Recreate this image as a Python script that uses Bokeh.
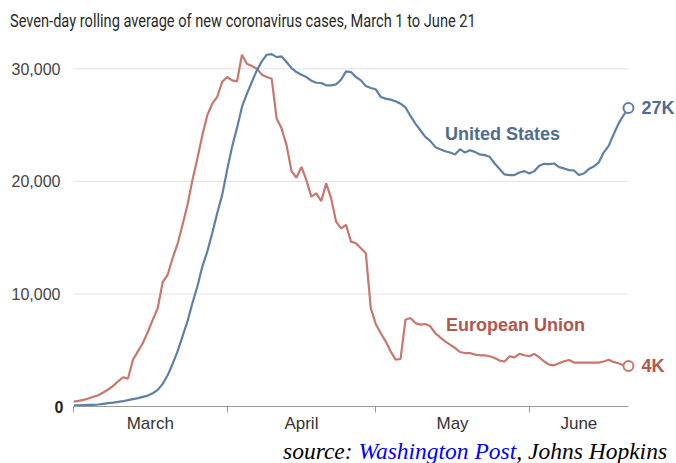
from bokeh.plotting import figure
from bokeh.models import FixedTicker, Label, Range1d, NumeralTickFormatter, LinearAxis, Div
from bokeh.layouts import column
from bokeh.embed import file_html
from bokeh.resources import INLINE

# ---------------- data (7-day rolling average, day 0 = March 1, day 112 = June 21)
days = list(range(113))

us_cases = [
    100, 110, 130, 140, 150, 180, 240, 300, 350, 410,
    470, 560, 650, 740, 860, 970, 1180, 1480, 2010, 2770,
    3780, 4900, 6230, 7560, 9190, 10660, 12430, 13760, 15390, 17160,
    18780, 21000, 23060, 24750, 26610, 27790, 28830, 29860, 30660, 31250,
    31300, 31040, 31100, 30600, 30060, 29710, 29480, 29270, 28940, 28760,
    28740, 28530, 28530, 28620, 29030, 29770, 29710, 29270, 28970, 28470,
    28290, 28180, 27500, 27350, 27260, 27110, 26900, 26580, 25810, 25130,
    24540, 23950, 23600, 23060, 22860, 22680, 22560, 22390, 22860, 22560,
    22770, 22620, 22390, 22330, 22180, 21590, 21090, 20620, 20560, 20560,
    20790, 20910, 20700, 20910, 21380, 21560, 21530, 21590, 21260, 21150,
    21000, 20970, 20560, 20700, 21090, 21320, 21680, 22560, 23150, 24160,
    25130, 25870, 26520,
]

eu_cases = [
    440, 500, 590, 710, 860, 1000, 1240, 1510, 1830, 2240,
    2600, 2480, 4160, 4900, 5640, 6620, 7710, 8740, 11040, 11700,
    13170, 14440, 16130, 17900, 20110, 22030, 24100, 25870, 26900, 27500,
    28830, 29270, 28970, 28880, 31250, 30450, 30240, 30010, 29480, 29270,
    29120, 25580, 24690, 23210, 20910, 20320, 21290, 20110, 18640, 18930,
    18250, 19820, 18490, 16420, 15830, 16130, 14650, 14500, 14060, 13610,
    8740, 7330, 6530, 5790, 4900, 4160, 4220, 7710, 7860, 7410,
    7270, 7330, 7120, 6530, 6140, 5790, 5490, 5200, 4840, 4750,
    4750, 4610, 4550, 4550, 4460, 4310, 4080, 4000, 4460, 4370,
    4670, 4550, 4460, 4670, 4370, 4000, 3720, 3660, 3840, 4020,
    4130, 3900, 3900, 3900, 3900, 3900, 3900, 4000, 4150, 3960,
    3840, 3660, 3600,
]

month_names = ["March", "April", "May", "June"]
month_starts = [0, 31, 61, 92]
y_ticks = [0, 10000, 20000, 30000]
series_names = ["United States", "European Union"]

title_text = "Seven-day rolling average of new coronavirus cases, March 1 to June 21"
source_parts = ["source: ", "Washington Post", ", Johns Hopkins"]

# ---------------- styling
US_LINE = "#5f80a6"
US_TEXT = "#4d6c93"
EU_LINE = "#c7776d"
EU_TEXT = "#b3564d"
AXIS_GREY = "#9a9a9a"
GRID_GREY = "#e2e2e2"
SANS = "Liberation Sans"

last = days[-1]
ends = month_starts[1:] + [last]
month_centers = [float(a + b) / 2 for a, b in zip(month_starts, ends)]
grid_vals = [t for t in y_ticks if t > 0]

# title block (condensed look via horizontal scaling)
title_div = Div(text=title_text, width=676, height=45, margin=(0, 0, 0, 0),
                styles={"font-family": "Roboto, sans-serif", "font-size": "18.5px",
                        "line-height": "20px", "padding-top": "11px",
                        "padding-left": "12.6px", "white-space": "nowrap",
                        "color": "#2a2a2a", "box-sizing": "border-box",
                        "transform": "scaleX(0.79)", "transform-origin": "0 0"})

p = figure(width=676, height=390, output_backend="svg", toolbar_location=None,
           x_range=Range1d(days[0], last + 9.7), y_range=Range1d(0, 32070),
           min_border_left=73, min_border_right=0, min_border_top=0,
           min_border_bottom=28)
p.outline_line_color = None
p.background_fill_color = "white"
p.border_fill_color = "white"

# grid (drawn only over the data span)
p.xgrid.grid_line_color = None
p.ygrid.grid_line_color = None
p.segment(x0=[days[0]] * len(grid_vals), x1=[last] * len(grid_vals),
          y0=grid_vals, y1=grid_vals, line_color=GRID_GREY, line_width=1,
          level="underlay")

# inner y axis: the bold zero
p.yaxis.ticker = FixedTicker(ticks=[0])
p.yaxis.axis_line_color = None
p.yaxis.major_tick_line_color = None
p.yaxis.minor_tick_line_color = None
p.yaxis.major_tick_out = 0
p.yaxis.minor_tick_out = 0
p.yaxis.major_label_standoff = 10
p.yaxis.major_label_text_font = SANS
p.yaxis.major_label_text_font_style = "bold"
p.yaxis.major_label_text_font_size = "16px"
p.yaxis.major_label_text_color = "#222222"

# outer y axis: the other values
yax2 = LinearAxis(ticker=FixedTicker(ticks=grid_vals),
                  formatter=NumeralTickFormatter(format="0,0"),
                  axis_line_color=None, major_tick_line_color=None,
                  minor_tick_line_color=None, major_tick_out=0, minor_tick_out=0,
                  major_label_standoff=-9,
                  major_label_text_font=SANS, major_label_text_font_size="16px",
                  major_label_text_color="#444444")
p.add_layout(yax2, "left")

# x axis: labels at month centres, tick marks at month boundaries
p.xaxis.ticker = FixedTicker(ticks=month_centers, minor_ticks=[float(m) for m in month_starts])
p.xaxis.major_label_overrides = {c: n for c, n in zip(month_centers, month_names)}
p.xaxis.bounds = (days[0], last)
p.xaxis.major_tick_in = 0
p.xaxis.major_tick_out = 0
p.xaxis.minor_tick_in = 0
p.xaxis.minor_tick_out = 6
p.xaxis.minor_tick_line_color = AXIS_GREY
p.xaxis.axis_line_color = AXIS_GREY
p.xaxis.major_label_standoff = 1
p.xaxis.major_label_text_font = SANS
p.xaxis.major_label_text_font_size = "17px"
p.xaxis.major_label_text_color = "#333333"

# lines
p.line(days, eu_cases, line_color=EU_LINE, line_width=2.2)
p.line(days, us_cases, line_color=US_LINE, line_width=2.2)

# end markers + end labels
for vals, lc, tc in [(us_cases, US_LINE, US_TEXT), (eu_cases, EU_LINE, EU_TEXT)]:
    p.scatter(x=[last], y=[vals[-1]], size=10, marker="circle",
              fill_color="white", line_color=lc, line_width=2)
    p.add_layout(Label(x=last, y=vals[-1], x_offset=13,
                       text=f"{round(vals[-1] / 1000)}K", text_align="left",
                       text_baseline="middle", text_font=SANS,
                       text_font_style="bold", text_font_size="18px",
                       text_color=tc))

# series names
p.add_layout(Label(x=75, y=24200, text=series_names[0], text_baseline="middle",
                   text_font=SANS, text_font_style="bold", text_font_size="18px",
                   text_color=US_TEXT))
p.add_layout(Label(x=75.2, y=7260, text=series_names[1], text_baseline="middle",
                   text_font=SANS, text_font_style="bold", text_font_size="18px",
                   text_color=EU_TEXT))

# source line
src_html = (f'<i>{source_parts[0]}<span style="color:blue">{source_parts[1]}</span>'
            f'{source_parts[2]}</i>')
src = Div(text=src_html, width=676, height=28, margin=(0, 0, 0, 0),
          styles={"font-family": "'Liberation Serif', serif", "font-size": "23.5px",
                  "line-height": "23px", "padding-top": "5px", "padding-left": "283px",
                  "white-space": "nowrap", "overflow": "hidden", "color": "black",
                  "box-sizing": "border-box"})

layout = column(title_div, p, src, spacing=0)
open("out.html", "w").write(file_html(layout, INLINE))
